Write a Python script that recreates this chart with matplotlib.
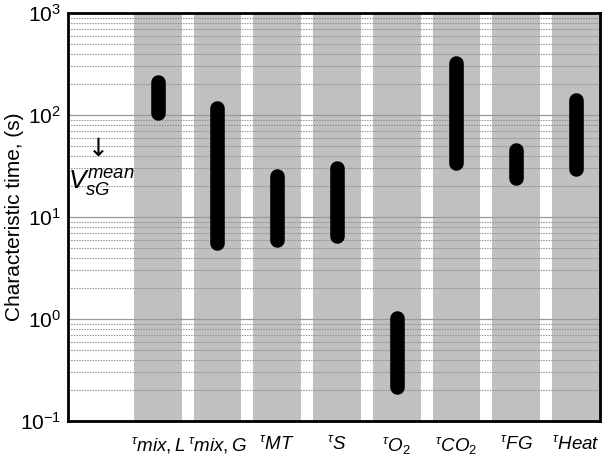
import matplotlib
matplotlib.use("Agg")
import matplotlib.pyplot as plt
import numpy as np

plt.rcParams['font.family'] = ['Liberation Sans', 'DejaVu Sans']
plt.rcParams['mathtext.fontset'] = 'custom'
plt.rcParams['mathtext.rm'] = 'Liberation Sans'
plt.rcParams['mathtext.it'] = 'Liberation Sans:italic'
plt.rcParams['mathtext.bf'] = 'Liberation Sans:bold'

labels = [r'${}^{\tau}\mathit{mix,L}$', r'${}^{\tau}\mathit{mix,G}$', r'${}^{\tau}\mathit{MT}$',
          r'${}^{\tau}\mathit{S}$', r'${}^{\tau}\mathit{O}_{2}$', r'${}^{\tau}\mathit{CO}_{2}$',
          r'${}^{\tau}\mathit{FG}$', r'${}^{\tau}\mathit{Heat}$']
low = [105, 5.6, 5.9, 6.5, 0.215, 34, 24, 29.5]
high = [210, 117, 25, 30, 1.02, 324, 45, 139]

fig = plt.figure(figsize=(6.09, 4.69), dpi=100)
ax = fig.add_axes([0.1117, 0.1023, 0.8733, 0.870])

pos = np.arange(2, 2 + len(labels))
ax.bar(pos, [1e3] * len(pos), bottom=1e-1, width=0.8, color='#c0c0c0', zorder=1)
for p, lo, hi in zip(pos, low, high):
    ax.plot([p, p], [lo, hi], color='black', lw=10.5, solid_capstyle='round', zorder=4)

ax.set_yscale('log')
ax.set_ylim(1e-1, 1e3)
ax.set_xlim(0.5, 9.4)
ax.set_yticks([1e-1, 1e0, 1e1, 1e2, 1e3])
ax.set_yticklabels([r'$10^{-1}$', r'$10^{0}$', r'$10^{1}$', r'$10^{2}$', r'$10^{3}$'], fontsize=15)
ax.set_xticks(pos)
ax.set_xticklabels(labels, fontsize=13.5)
ax.tick_params(axis='both', which='both', length=0)
ax.tick_params(axis='x', pad=10)
ax.tick_params(axis='y', pad=5)
ax.set_axisbelow(False)
ax.grid(True, which='major', axis='y', color='#999999', lw=0.9, ls='-', zorder=2)
ax.grid(True, which='minor', axis='y', color='#8a8a8a', lw=0.8, ls=(0, (1.2, 1.2)), zorder=2)
for s in ax.spines.values():
    s.set_linewidth(2)
    s.set_zorder(5)
ax.set_ylabel('Characteristic time, (s)', fontsize=15)
ax.yaxis.set_label_coords(-0.083, 0.5)

ax.text(1.0, 46, '\u2193', fontsize=18, ha='center', va='center', zorder=6,
        family=['DejaVu Sans'])
ax.text(1.05, 22, r'$V_{sG}^{mean}$', fontsize=19, ha='center', va='center', zorder=6)

fig.savefig('out.png', dpi=100)
